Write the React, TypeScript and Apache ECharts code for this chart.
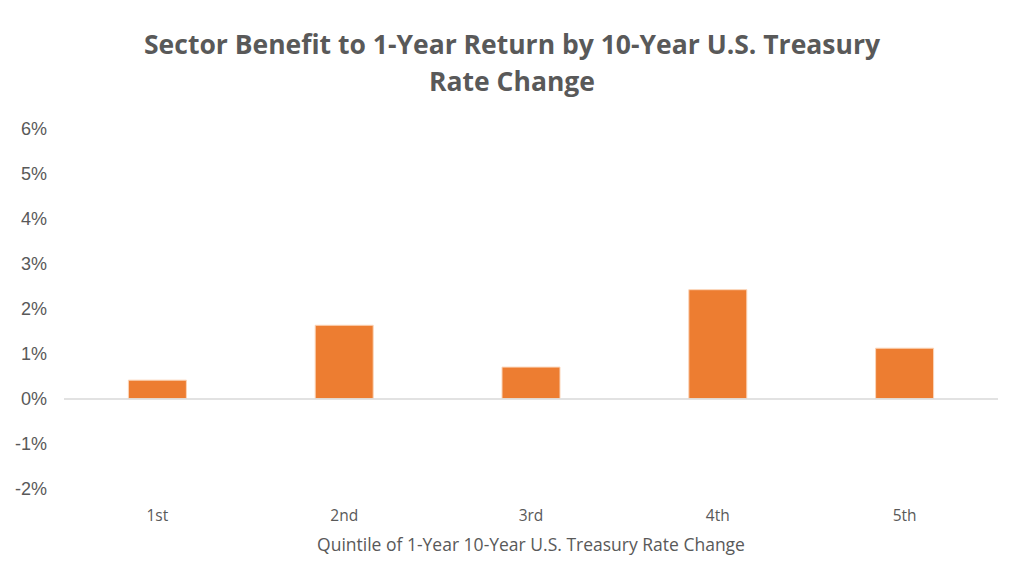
import React, { useEffect, useRef } from "react";
import * as echarts from "echarts";

const categories = ["1st", "2nd", "3rd", "4th", "5th"];
const benefitValues = [0.43, 1.65, 0.72, 2.44, 1.14];
const yTicks = { min: -2, max: 6, interval: 1 };

export default function App() {
  const ref = useRef<HTMLDivElement>(null);
  useEffect(() => {
    if (!ref.current) return;
    const chart = echarts.init(ref.current, undefined, { renderer: "svg" });
    chart.setOption({
      animation: false,
      backgroundColor: "#ffffff",
      title: {
        text: "Sector Benefit to 1-Year Return by 10-Year U.S. Treasury\nRate Change",
        left: "center",
        top: 20,
        textStyle: {
          fontFamily: "Open Sans",
          fontWeight: "bold",
          fontSize: 26.5,
          color: "#595959",
          lineHeight: 37,
        },
      },
      grid: { left: 64, right: 26, top: 129, bottom: 96 },
      xAxis: {
        type: "category",
        data: categories,
        axisLine: { show: false },
        axisTick: { show: false },
        axisLabel: {
          margin: 18,
          fontFamily: "Open Sans",
          fontSize: 15.5,
          color: "#595959",
        },
        name: "Quintile of 1-Year 10-Year U.S. Treasury Rate Change",
        nameLocation: "middle",
        nameGap: 46,
        nameTextStyle: {
          fontFamily: "Open Sans",
          fontSize: 17.5,
          color: "#595959",
        },
      },
      yAxis: {
        type: "value",
        min: yTicks.min,
        max: yTicks.max,
        interval: yTicks.interval,
        splitLine: { show: false },
        axisLine: { show: false },
        axisTick: { show: false },
        axisLabel: {
          margin: 17,
          fontFamily: "Liberation Sans",
          fontSize: 18,
          color: "#595959",
          formatter: (v: number) => `${v}%`,
        },
      },
      series: [
        {
          type: "bar",
          data: benefitValues,
          barWidth: 59,
          itemStyle: { color: "#ed7d31", borderColor: "#fbd5b9", borderWidth: 1 },
          markLine: {
            silent: true,
            symbol: "none",
            label: { show: false },
            lineStyle: { color: "#d9d9d9", width: 1.5, type: "solid" },
            data: [{ yAxis: 0 }],
          },
        },
      ],
    });
    return () => chart.dispose();
  }, []);
  return (
    <div
      ref={ref}
      style={{ position: "absolute", left: 0, top: 0, width: 1024, height: 585 }}
    />
  );
}
